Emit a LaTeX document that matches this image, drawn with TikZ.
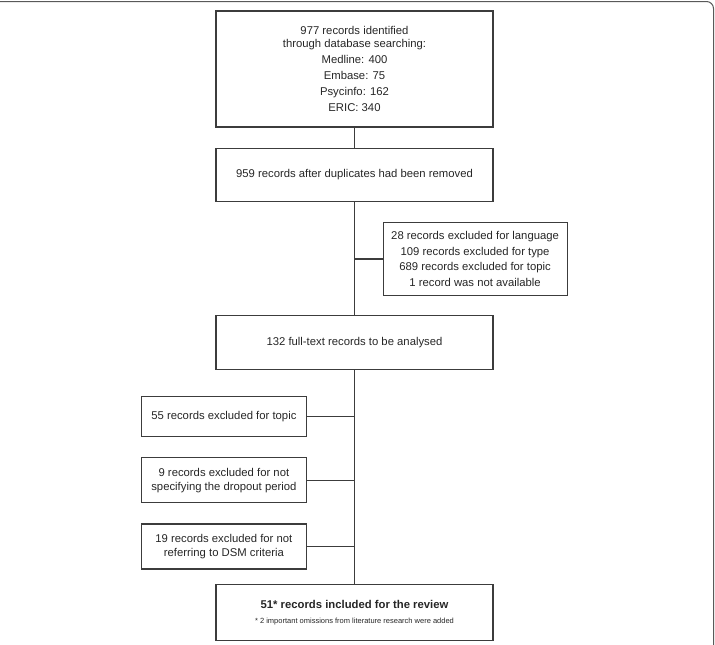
\documentclass[tikz,border=0pt]{standalone}
\usepackage{fontspec}
\setmainfont{Liberation Sans}
\usetikzlibrary{positioning}
\definecolor{linegray}{HTML}{3C3C3C}

\begin{document}
\begin{tikzpicture}[x=1pt,y=-1pt,
    font=\fontsize{11.3}{16}\selectfont,
    mainbox/.style={draw=linegray,line width=1.2pt,text=black!85,
        align=center,minimum width=277pt,inner sep=2pt},
    sidebox/.style={draw=linegray,line width=1.2pt,text=black!85,
        align=center,minimum width=165pt,inner sep=2pt},
    link/.style={draw=linegray,line width=1.6pt}]
\useasboundingbox (0,0) rectangle (715,645);

% Frame
\draw[gray!70!black,line width=1pt,rounded corners=7pt]
    (0,1.5) -- (713.5,1.5) -- (713.5,645);

% Identification block
\node[mainbox,
    minimum height=116pt
] (block1) at (354.5,69) {977 records identified\\[-3pt]
    through database searching:\\
    Medline: 400\\ Embase: 75\\ Psycinfo: 162\\ ERIC: 340};

\node[mainbox,
    minimum height=53pt,
    below= 20pt of block1
] (block2) {959 records after duplicates had been removed};

% Screening exclusions
\node[mainbox,
    minimum width=184pt,
    minimum height=73pt,
    below right= 20pt and 28pt of block2.south
] (block3) {28 records excluded for language\\[-0.5pt]
    109 records excluded for type\\[-0.5pt]
    689 records excluded for topic\\[-0.5pt]
    1 record was not available};

\node[mainbox,
    minimum height=54pt,
    below= 113pt of block2
] (block4) {132 full-text records to be analysed};

% Full-text exclusions
\node[sidebox,
    minimum height=40pt,
    below left= 26pt and 47.5pt of block4.south
] (block5) {55 records excluded for topic};

\node[sidebox,
    minimum height=45pt,
    below= 20pt of block5
] (block6) {9 records excluded for not\\[-2pt]
    specifying the dropout period};

\node[sidebox,
    minimum height=45pt,
    below= 20pt of block6
] (block7) {19 records excluded for not\\[-2pt]
    referring to DSM criteria};

% Included block
\node[mainbox,
    minimum height=56pt,
    below= 214pt of block4
] (block8) {{\bfseries 51* records included for the review}\\[-1pt]
    {\fontsize{7.5}{9}\selectfont * 2 important omissions from literature research were added}};

% Lines
\draw[link] (block1) -- (block2);
\draw[link] (block2) -- (block4);
\draw[link] (block4) -- (block8);
\draw[link] (block3.west) -- (block3.west -| block2.south);
\draw[link] (block5.east) -- (block5.east -| block4.south);
\draw[link] (block6.east) -- (block6.east -| block4.south);
\draw[link] (block7.east) -- (block7.east -| block4.south);

\end{tikzpicture}
\end{document}
